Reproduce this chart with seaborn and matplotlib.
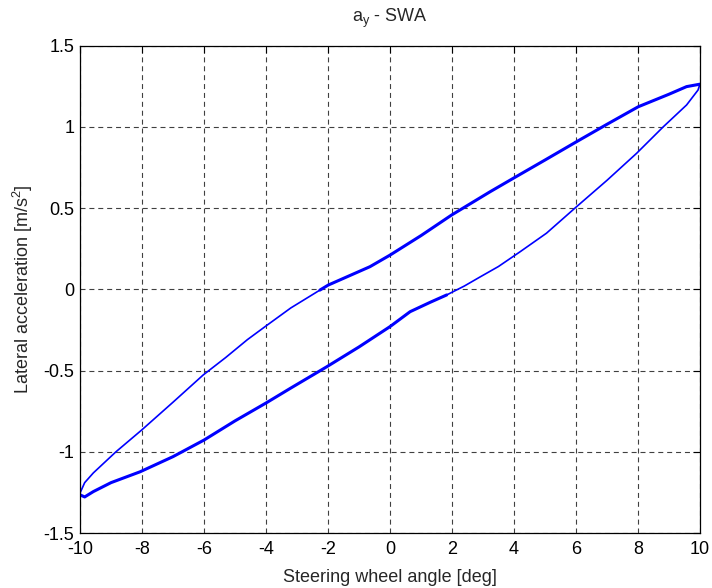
import pandas as pd
import seaborn as sns
import matplotlib.pyplot as plt

# Lower branch (steering increases), thick part where several cycles overlap
low_thick_x = [-10.0, -9.85, -9.57, -9.0, -8.06, -7.0, -6.0, -5.0, -4.0, -3.2, -2.04, -1.0, 0.0, 0.65, 1.3, 1.83]
low_thick_y = [-1.265, -1.278, -1.245, -1.19, -1.123, -1.03, -0.928, -0.81, -0.70, -0.608, -0.477, -0.355, -0.23, -0.138, -0.08, -0.035]
# Lower branch, single thin pass
low_thin_x = [1.83, 2.4, 2.9, 3.5, 4.2, 5.05, 6.02, 7.0, 7.96, 8.82, 9.57, 9.94, 10.0]
low_thin_y = [-0.035, 0.02, 0.075, 0.14, 0.231, 0.345, 0.508, 0.67, 0.837, 1.0, 1.134, 1.226, 1.262]
# Upper branch (steering decreases), thick part
up_thick_x = [10.0, 9.57, 9.0, 8.01, 7.0, 6.02, 5.0, 3.98, 3.23, 1.99, 1.0, 0.0, -0.645, -1.99, -2.26]
up_thick_y = [1.262, 1.247, 1.2, 1.123, 1.015, 0.908, 0.795, 0.683, 0.60, 0.457, 0.33, 0.21, 0.139, 0.026, -0.005]
# Upper branch, single thin pass
up_thin_x = [-2.26, -3.2, -4.03, -4.6, -5.3, -6.03, -7.0, -8.01, -8.84, -9.57, -9.85, -10.0]
up_thin_y = [-0.005, -0.115, -0.23, -0.31, -0.42, -0.528, -0.695, -0.866, -1.0, -1.13, -1.19, -1.254]

segments = {
    'low_thick': (low_thick_x, low_thick_y, 2.2),
    'low_thin': (low_thin_x, low_thin_y, 1.2),
    'up_thick': (up_thick_x, up_thick_y, 2.2),
    'up_thin': (up_thin_x, up_thin_y, 1.2),
}

sns.set_style('white')
plt.rcParams['font.family'] = ['Liberation Sans', 'DejaVu Sans']
plt.rcParams['mathtext.fontset'] = 'custom'
plt.rcParams['mathtext.rm'] = 'Liberation Sans'

fig, ax = plt.subplots(figsize=(7.12, 5.88), dpi=100)
fig.subplots_adjust(left=0.1124, right=0.983, bottom=0.0935, top=0.9226)

for name, (xs, ys, lw) in segments.items():
    df = pd.DataFrame({'swa': xs, 'ay': ys})
    sns.lineplot(data=df, x='swa', y='ay', sort=False, estimator=None,
                 color='#0000ff', linewidth=lw, ax=ax)

ax.set_xlim(-10, 10)
ax.set_ylim(-1.5, 1.5)
ax.set_xticks(range(-10, 11, 2))
ax.set_yticks([-1.5, -1, -0.5, 0, 0.5, 1, 1.5])
ax.set_yticklabels(['-1.5', '-1', '-0.5', '0', '0.5', '1', '1.5'])
ax.set_xticklabels([str(v) for v in range(-10, 11, 2)])

ax.grid(True, color='0.25', linestyle=(0, (4.5, 3.5)), linewidth=0.8)
ax.tick_params(direction='in', length=5, width=0.8, top=True, right=True,
               labelsize=13, colors='black')
ax.tick_params(axis='x', pad=6)
ax.tick_params(axis='y', pad=4)
for s in ax.spines.values():
    s.set_color('black')
    s.set_linewidth(0.9)

ax.set_xlabel('Steering wheel angle [deg]', fontsize=13, labelpad=8)
ax.set_ylabel(r'Lateral acceleration [m/s$^\mathregular{2}$]', fontsize=13, labelpad=6)
ax.set_title(r'$\mathregular{a_y}$ - SWA', fontsize=13, pad=17)

fig.savefig('out.png', dpi=100)
